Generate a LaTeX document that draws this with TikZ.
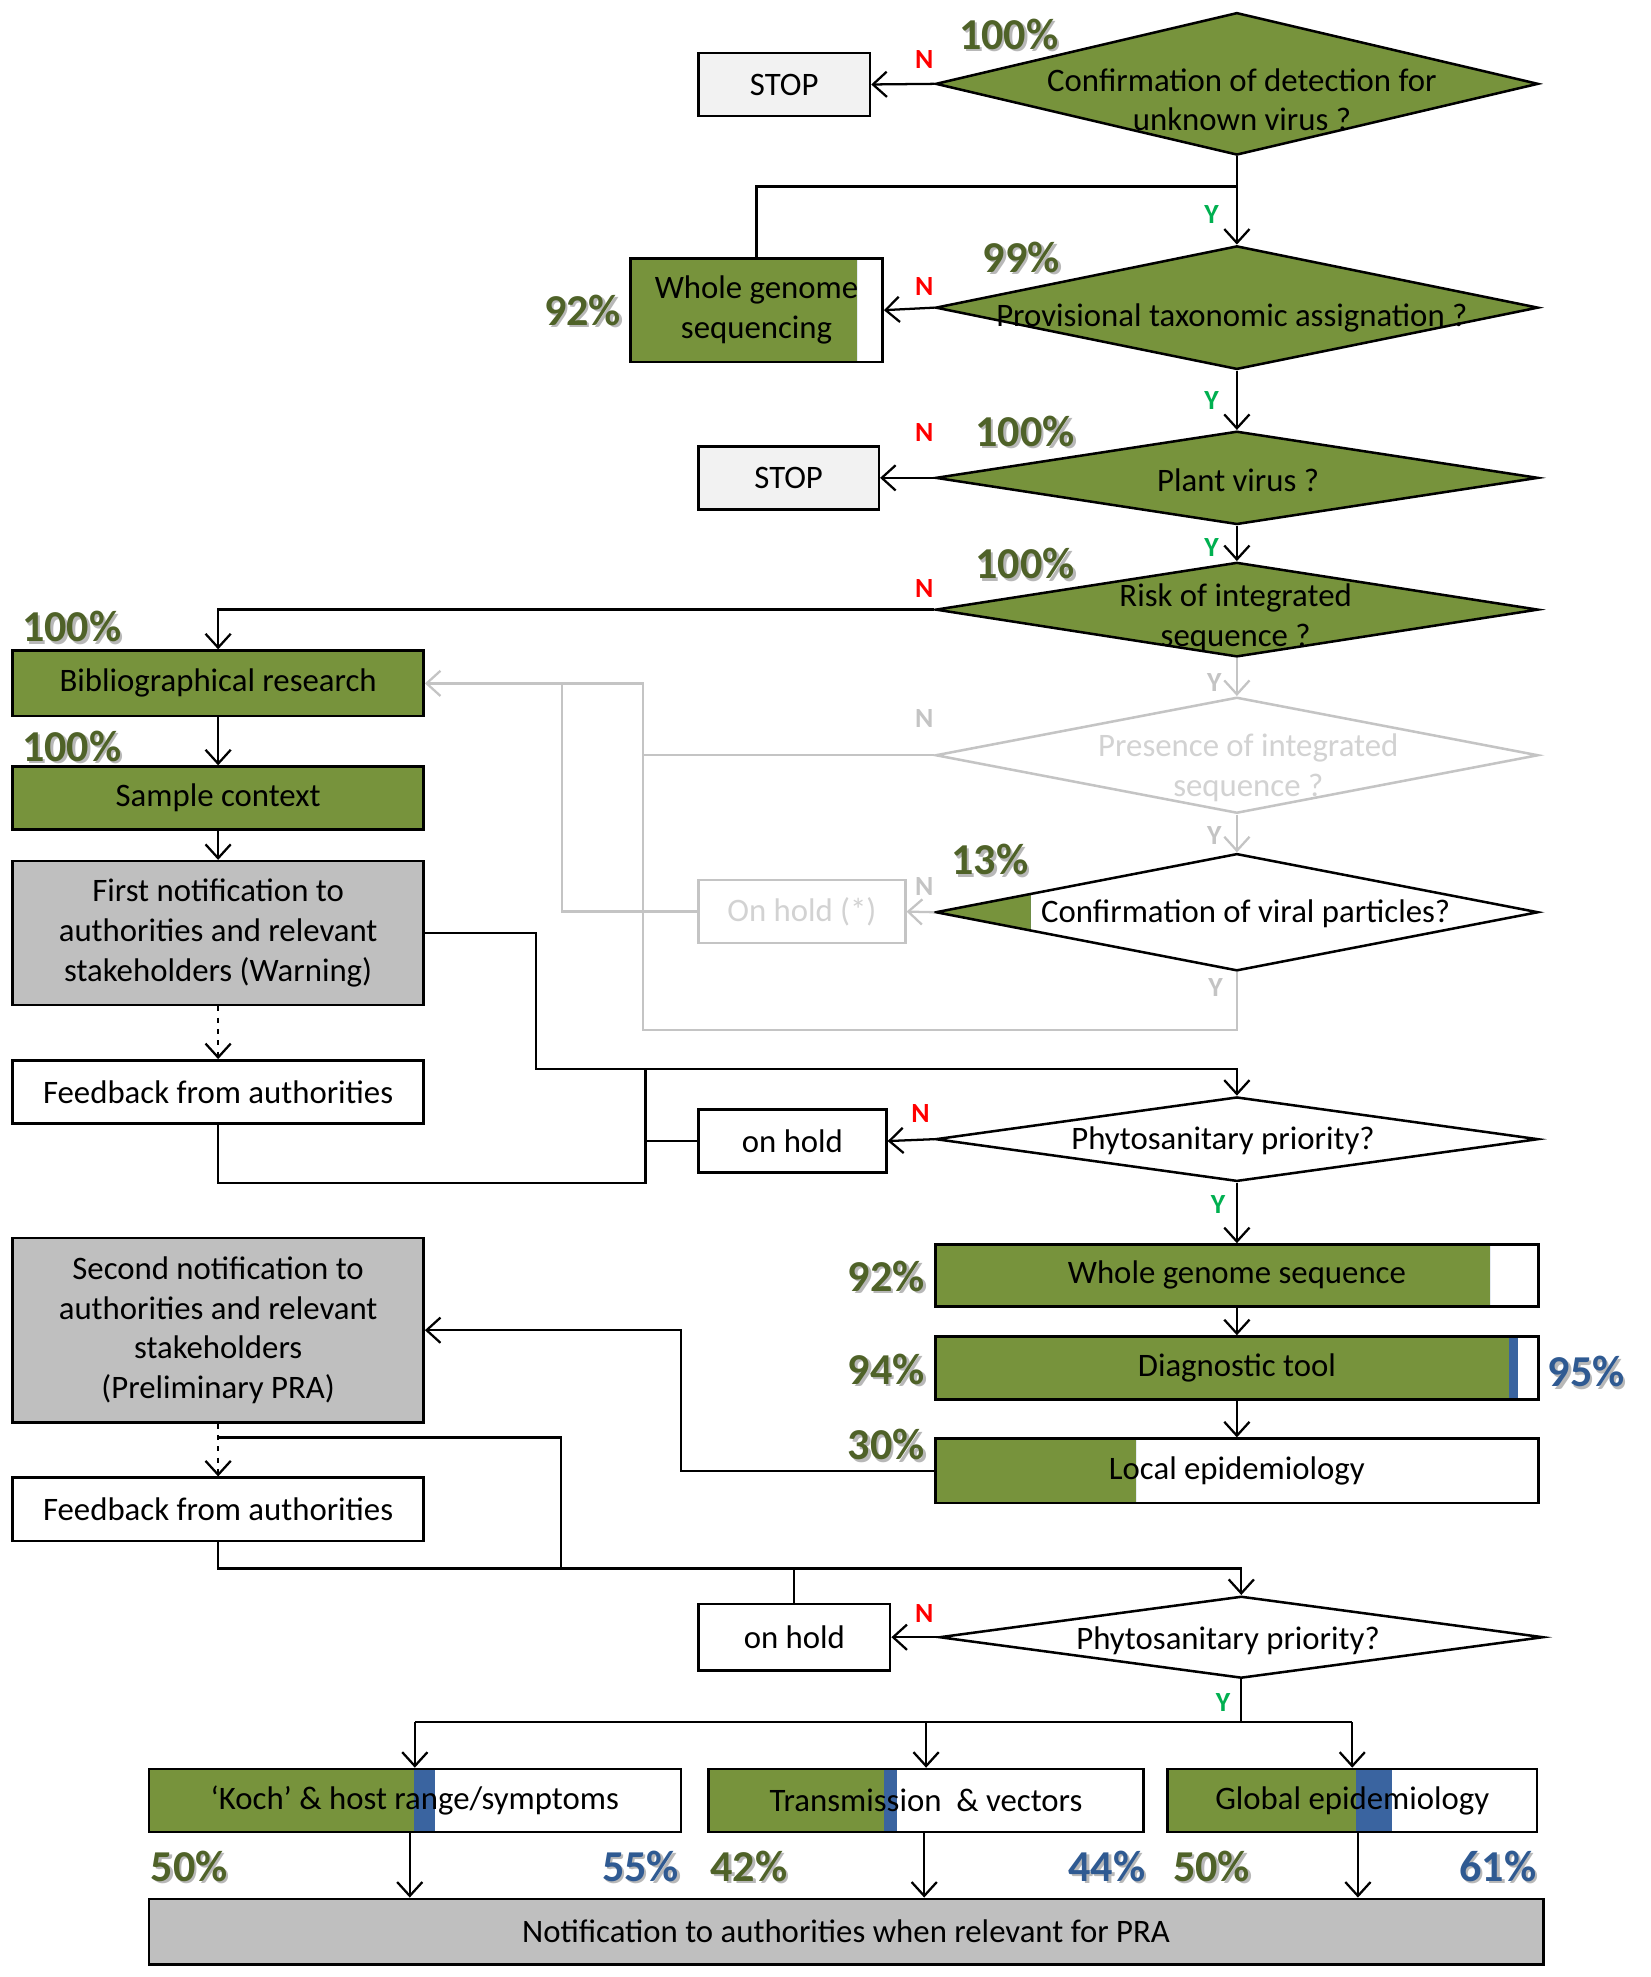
\documentclass[tikz,border=0pt]{standalone}
\usepackage{fontspec}
\setmainfont{Carlito}
\usetikzlibrary{arrows.meta,shapes.geometric,calc}
\definecolor{gfill}{HTML}{77933C}
\definecolor{pgreen}{HTML}{4F6228}
\definecolor{pblue}{HTML}{2F5A92}
\definecolor{bbar}{HTML}{3A64A0}
\definecolor{grayfill}{HTML}{BFBFBF}
\definecolor{stopfill}{HTML}{F2F2F2}
\definecolor{inact}{HTML}{C4C4C4}
\definecolor{inacttext}{HTML}{D2D2D2}
\definecolor{nred}{HTML}{FF0000}
\definecolor{ygreen}{HTML}{00B050}
\newcommand\mainfnt{\fontsize{26}{31.5}\selectfont}
\newcommand\pctfnt{\fontsize{35}{35}\selectfont\bfseries}
\newcommand\ynfnt{\fontsize{22}{22}\selectfont\bfseries}
\newcommand\pctlab[5]{%
  \node[pctstyle, text=black!28] (#1s) at (#2+2,#3+2) {#4};
  \node[pctstyle, text=#5] (#1) at (#2,#3) {#4};}
\begin{document}
\begin{tikzpicture}[x=1pt,y=-1pt,
  box/.style={draw, line width=2pt, inner sep=0pt, align=center, font=\mainfnt},
  dia/.style={diamond, draw, line width=2pt, inner sep=0pt},
  txt/.style={inner sep=0pt, align=center, font=\mainfnt},
  pctstyle/.style={inner sep=0pt, font=\pctfnt},
  yn/.style={inner sep=0pt, font=\ynfnt},
  ln/.style={line width=1.8pt},
  arr/.style={line width=1.8pt, -{Straight Barb[length=11pt,width=20pt]}},
  dsh/.style={line width=1.8pt, dash pattern=on 4pt off 5pt, -{Straight Barb[length=11pt,width=20pt]}},
  gln/.style={line width=1.8pt, draw=inact},
  garr/.style={line width=1.8pt, draw=inact, -{Straight Barb[length=11pt,width=20pt]}},
  part/.style n args={2}{path picture={
    \fill[gfill] (path picture bounding box.south west) rectangle
      ($(path picture bounding box.north west)!#1!(path picture bounding box.north east)$);
    \fill[bbar] ($(path picture bounding box.south west)!#1!(path picture bounding box.south east)$) rectangle
      ($(path picture bounding box.north west)!#2!(path picture bounding box.north east)$);
  }}
]
\useasboundingbox[fill=white] (0,0) rectangle (1309,1568);

% ---------- top chain ----------
\node[box, fill=stopfill, minimum width=136pt, minimum height=50pt] (stop1) at (622,67) {STOP};
\node[dia, fill=gfill, minimum width=478pt, minimum height=113pt] (d1) at (981,66.5) {};
\node[txt] (d1t) at (985,79) {Confirmation of detection for\\unknown virus ?};

\node[box, fill=white, part={0.9}{0.9}, minimum width=200pt, minimum height=82pt] (wgs1) at (600,246) {Whole genome\\sequencing};
\node[dia, fill=gfill, minimum width=478pt, minimum height=98pt] (d2) at (981,244) {};
\node[txt] (d2t) at (977,252) {Provisional taxonomic assignation ?};

\node[box, fill=stopfill, minimum width=143pt, minimum height=50pt] (stop2) at (625.5,379) {STOP};
\node[dia, fill=gfill, minimum width=478pt, minimum height=74pt] (d3) at (981,379) {};
\node[txt] (d3t) at (982,381) {Plant virus ?};

\node[dia, fill=gfill, minimum width=478pt, minimum height=75pt] (d4) at (981,483.5) {};
\node[txt] (d4t) at (980,490) {Risk of integrated\\sequence ?};

% ---------- inactive part ----------
\node[dia, fill=white, draw=inact, minimum width=478pt, minimum height=92pt] (d5) at (981,599) {};
\node[txt, text=inacttext] (d5t) at (990,609) {Presence of integrated\\sequence ?};
\node[box, draw=inact, text=inacttext, minimum width=164pt, minimum height=50pt] (ohs) at (636,723) {On hold (*)};
\node[dia, fill=white, part={0.157}{0.157}, minimum width=478pt, minimum height=93pt] (d6) at (981,723.5) {};
\node[txt] (d6t) at (988,725) {Confirmation of viral particles?};

% ---------- left column ----------
\node[box, fill=gfill, minimum width=326pt, minimum height=52pt] (bib) at (173,542) {Bibliographical research};
\node[box, fill=gfill, minimum width=326pt, minimum height=50pt] (sample) at (173,633) {Sample context};
\node[box, fill=grayfill, minimum width=326pt, minimum height=114pt] (first) at (173,740) {First notification to\\authorities and relevant\\stakeholders (Warning)};
\node[box, fill=white, minimum width=326pt, minimum height=50pt] (fb1) at (173,866) {Feedback from authorities};
\node[box, fill=grayfill, minimum width=326pt, minimum height=146pt] (second) at (173,1055) {Second notification to\\authorities and relevant\\stakeholders\\(Preliminary PRA)};
\node[box, fill=white, minimum width=326pt, minimum height=50pt] (fb2) at (173,1197) {Feedback from authorities};

% ---------- middle ----------
\node[box, fill=white, minimum width=149pt, minimum height=50pt] (oh1) at (628.5,905) {on hold};
\node[dia, fill=white, minimum width=478pt, minimum height=67pt] (d7) at (981,903.5) {};
\node[txt] (d7t) at (970,905) {Phytosanitary priority?};

\node[box, fill=white, part={0.92}{0.92}, minimum width=478pt, minimum height=49pt] (wgs2) at (981,1011.5) {Whole genome sequence};
\node[box, fill=white, part={0.952}{0.967}, minimum width=478pt, minimum height=50pt] (diag) at (981,1085) {Diagnostic tool};
\node[box, fill=white, part={0.333}{0.333}, minimum width=478pt, minimum height=51pt] (local) at (981,1166.5) {Local epidemiology};

\node[box, fill=white, minimum width=152pt, minimum height=53pt] (oh2) at (630,1298.5) {on hold};
\node[dia, fill=white, minimum width=479pt, minimum height=65pt] (d8) at (984.5,1298.5) {};
\node[txt] (d8t) at (974,1301) {Phytosanitary priority?};

% ---------- bottom ----------
\node[box, fill=white, part={0.498}{0.538}, minimum width=422pt, minimum height=50pt] (koch) at (329,1428) {‘Koch’ \& host range/symptoms};
\node[box, fill=white, part={0.403}{0.432}, minimum width=345pt, minimum height=50pt] (trans) at (734.5,1428) {Transmission\ \ \& vectors};
\node[box, fill=white, part={0.509}{0.608}, minimum width=293pt, minimum height=50pt] (glob) at (1072.5,1428) {Global epidemiology};
\node[box, fill=grayfill, minimum width=1106pt, minimum height=52pt] (notif) at (671,1532) {Notification to authorities when relevant for PRA};

% ---------- connectors (inactive) ----------
\coordinate (g1) at (510,542);
\coordinate (g2) at (446,542);
\coordinate (g3) at (510,817);
\draw[garr] (d4.south) -- (d5.north);
\draw[garr] (d5.west) -| (g1) -- (bib.east);
\draw[garr] (d5.south) -- (d6.north);
\draw[garr] (d6.west) -- (ohs.east);
\draw[gln] (ohs.west) -| (g2);
\draw[gln] (d6.south) |- (g3) -- (g1);

% ---------- connectors ----------
\coordinate (jw) at (981,148);
\draw[arr] (d1.west) -- (stop1.east);
\draw[arr] (d1.south) -- (d2.north);
\draw[ln] (wgs1.north) |- (jw);
\draw[arr] (d2.west) -- (wgs1.east);
\draw[arr] (d2.south) -- (d3.north);
\draw[arr] (d3.west) -- (stop2.east);
\draw[arr] (d3.south) -- (d4.north);
\draw[arr] (d4.west) -| (bib.north);
\draw[arr] (bib.south) -- (sample.north);
\draw[arr] (sample.south) -- (first.north);
\draw[dsh] (first.south) -- (fb1.north);

\coordinate (f1) at (425,848);
\coordinate (f2) at (512,848);
\coordinate (f3) at (512,938);
\draw[arr] (first.east) -| (f1) -| (d7.north);
\draw[ln] (fb1.south) |- (f3) -- (f2);
\draw[ln] (oh1.west) -- (oh1.west -| f2);
\draw[arr] (d7.west) -- (oh1.east);
\draw[arr] (d7.south) -- (wgs2.north);
\draw[arr] (wgs2.south) -- (diag.north);
\draw[arr] (diag.south) -- (local.north);

\coordinate (l1) at (540,1055);
\draw[arr] (local.west) -| (l1) -- (second.east);
\draw[dsh] (second.south) -- (fb2.north);
\coordinate (s1) at (173,1140);
\coordinate (s2) at (445,1244);
\draw[ln] (s1) -| (s2);
\draw[arr] (fb2.south) |- (d8.north |- s2) -- (d8.north);
\draw[ln] (oh2.north) -- (oh2.north |- s2);
\draw[arr] (d8.west) -- (oh2.east);

\coordinate (b0) at (984.5,1366);
\draw[ln] (d8.south) -- (b0);
\draw[ln] (koch.north |- b0) -- (glob.north |- b0);
\draw[arr] (koch.north |- b0) -- (koch.north);
\draw[arr] (trans.north |- b0) -- (trans.north);
\draw[arr] (glob.north |- b0) -- (glob.north);
\coordinate (k1) at (325,1453);
\coordinate (t1) at (733,1453);
\coordinate (gg1) at (1077,1453);
\draw[arr] (k1) -- (k1 |- notif.north);
\draw[arr] (t1) -- (t1 |- notif.north);
\draw[arr] (gg1) -- (gg1 |- notif.north);

% ---------- Y / N labels ----------
\node[yn, text=nred] (n1) at (733,47) {N};
\node[yn, text=nred] (n2) at (733,227) {N};
\node[yn, text=nred] (n3) at (733,343) {N};
\node[yn, text=nred] (n4) at (733,467) {N};
\node[yn, text=inact] (n5) at (733,570) {N};
\node[yn, text=inact] (n6) at (733,703) {N};
\node[yn, text=nred] (n7) at (730,883) {N};
\node[yn, text=nred] (n8) at (733,1280) {N};
\node[yn, text=ygreen] (y1) at (961,170) {Y};
\node[yn, text=ygreen] (y2) at (961,318) {Y};
\node[yn, text=ygreen] (y3) at (961,434) {Y};
\node[yn, text=inact] (y4) at (963,541) {Y};
\node[yn, text=inact] (y5) at (963,663) {Y};
\node[yn, text=inact] (y6) at (964,783) {Y};
\node[yn, text=ygreen] (y7) at (966,955) {Y};
\node[yn, text=ygreen] (y8) at (970,1350) {Y};

% ---------- percentages ----------
\pctlab{p1}{800}{27}{100\%}{pgreen}
\pctlab{p2}{810}{204}{99\%}{pgreen}
\pctlab{p3}{462}{246}{92\%}{pgreen}
\pctlab{p4}{813}{342}{100\%}{pgreen}
\pctlab{p5}{813}{447}{100\%}{pgreen}
\pctlab{p6}{57}{497}{100\%}{pgreen}
\pctlab{p7}{57}{592}{100\%}{pgreen}
\pctlab{p8}{785}{682}{13\%}{pgreen}
\pctlab{p9}{703}{1012}{92\%}{pgreen}
\pctlab{p10}{703}{1086}{94\%}{pgreen}
\pctlab{p11}{1258}{1088}{95\%}{pblue}
\pctlab{p12}{703}{1146}{30\%}{pgreen}
\pctlab{p13}{150}{1480}{50\%}{pgreen}
\pctlab{p14}{508}{1480}{55\%}{pblue}
\pctlab{p15}{594}{1480}{42\%}{pgreen}
\pctlab{p16}{878}{1480}{44\%}{pblue}
\pctlab{p17}{961}{1480}{50\%}{pgreen}
\pctlab{p18}{1188}{1480}{61\%}{pblue}
\end{tikzpicture}
\end{document}
